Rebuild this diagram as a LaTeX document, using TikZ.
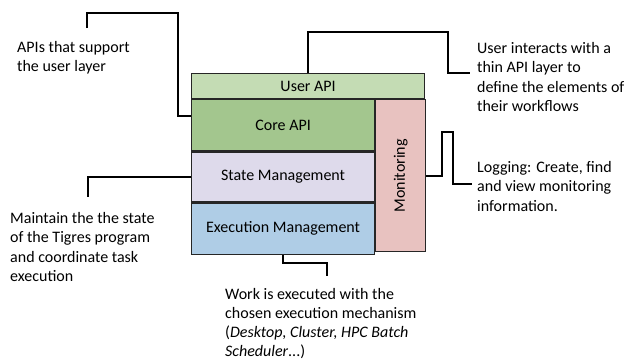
\documentclass[tikz,border=0pt]{standalone}
\usepackage{fontspec}
\setmainfont{Carlito}
\usepackage{xcolor}
\usetikzlibrary{positioning, calc}

\definecolor{userc}{HTML}{C4DCB4}
\definecolor{corec}{HTML}{A3C68E}
\definecolor{statec}{HTML}{DEDAEB}
\definecolor{execc}{HTML}{AFCDE6}
\definecolor{monc}{HTML}{E8C2C0}

\begin{document}
\begin{tikzpicture}[
        x=1pt, y=-1pt,
        layer/.style={rectangle, draw=black!85, line width=1.2pt, inner sep=0pt, anchor=north west, font=\fontsize{16}{19.5}\selectfont},
        note/.style={anchor=north west, inner sep=0pt, align=left, font=\fontsize{16}{19.5}\selectfont},
        callout/.style={draw, line width=1.8pt}
    ]
        \useasboundingbox (0,0) rectangle (631,362);

        % --- Layer stack ---
        \node[layer, fill=userc, minimum width=233, minimum height=25] (user) at (191,73) {User API};
        \node[layer, fill=corec, minimum width=183, minimum height=51] (core) at (user.south west) {Core API};
        \node[layer, fill=statec, minimum width=183, minimum height=50] (state) at (core.south west) {State Management};
        \node[layer, fill=execc, minimum width=183, minimum height=51] (exec) at (state.south west) {Execution Management};
        \node[layer, fill=monc, minimum width=50, minimum height=152] (mon) at (core.north east) {};
        \node[rotate=90, font=\fontsize{16}{19.5}\selectfont] (monlabel) at (mon.center) {Monitoring};

        % --- Notes ---
        \node[note] (apis) at (17,41) {APIs that support\\the user layer};
        \node[note] (userint) at (477,42) {User interacts with a\\thin API layer to\\define the elements of\\their workflows};
        \node[note] (logging) at (477,161) {Logging: Create, find\\and view monitoring\\information.};
        \node[note] (maintain) at (10,212) {Maintain the the state\\of the Tigres program\\and coordinate task\\execution};
        \node[note, font=\fontsize{16}{19}\selectfont] (work) at (225,288) {Work is executed with the\\chosen execution mechanism\\(\textit{Desktop, Cluster, HPC Batch}\\\textit{Scheduler}...)};

        % --- Callout ends ---
        \coordinate (apis-end) at (87,28);
        \coordinate (userint-end) at (470,73);
        \coordinate (logging-end) at (472,184);
        \coordinate (maintain-end) at (88,197);
        \coordinate (work-end) at (327,276);

        % --- Callouts ---
        \draw[callout] (apis-end) |- (178,13) |- (core.west |- 0,116);
        \draw[callout] (user.north) |- (448,32) |- (userint-end);
        \draw[callout] (mon.east) -| (442,132) -| (453,184) -- (logging-end);
        \draw[callout] (state.west) -| (maintain-end);
        \draw[callout] (exec.south) |- (327,263) -- (work-end);

    \end{tikzpicture}
\end{document}
